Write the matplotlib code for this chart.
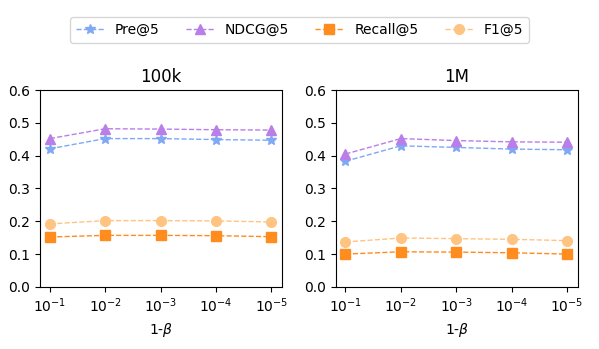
import matplotlib.pyplot as plt

betas = [1e-1, 1e-2, 1e-3, 1e-4, 1e-5]
datasets = ['100k', '1M']

pre = {'100k': [0.421, 0.452, 0.452, 0.449, 0.447],
       '1M': [0.383, 0.430, 0.425, 0.420, 0.418]}
ndcg = {'100k': [0.452, 0.482, 0.481, 0.479, 0.478],
        '1M': [0.405, 0.452, 0.446, 0.442, 0.441]}
recall = {'100k': [0.152, 0.157, 0.157, 0.156, 0.153],
          '1M': [0.100, 0.107, 0.106, 0.104, 0.100]}
f1 = {'100k': [0.192, 0.202, 0.202, 0.201, 0.198],
      '1M': [0.137, 0.149, 0.147, 0.145, 0.141]}

# label, data, color, marker
series = [
    ('Pre@5', pre, '#7fa8f5', '*'),
    ('NDCG@5', ndcg, '#b97ee8', '^'),
    ('Recall@5', recall, '#ff8c1f', 's'),
    ('F1@5', f1, '#ffc482', 'o'),
]

fig, axes = plt.subplots(1, 2, figsize=(5.99, 3.49), dpi=100)

for ax, name in zip(axes, datasets):
    for label, data, color, marker in series:
        ax.plot(betas, data[name], linestyle='--', linewidth=1, color=color,
                marker=marker, markersize=7, label=label)
    ax.set_xscale('log')
    ax.set_xlim(1.5e-1, 6.3e-6)
    ax.set_xticks(betas)
    ax.minorticks_off()
    ax.set_ylim(0, 0.6)
    ax.set_title(name)
    ax.set_xlabel(r'1-$\beta$')

handles, labels = axes[0].get_legend_handles_labels()
fig.legend(handles, labels, loc='upper center', ncol=4, bbox_to_anchor=(0.5, 0.97),
           columnspacing=1.9)

plt.subplots_adjust(left=0.067, right=0.965, top=0.742, bottom=0.178, wspace=0.22)
plt.savefig('out.png')
